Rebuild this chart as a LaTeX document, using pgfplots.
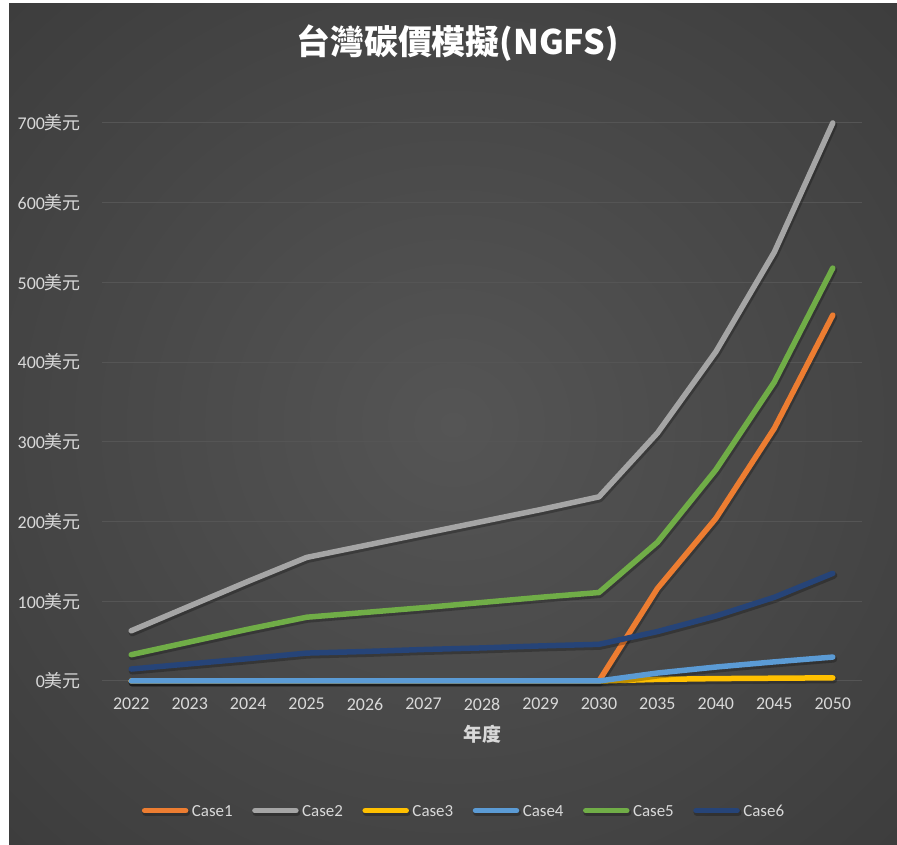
\documentclass[border=0pt]{standalone}
\usepackage{pgfplots}
\pgfplotsset{compat=1.18}
\usepackage{fontspec}
\setmainfont{Carlito}
\newfontfamily\cjk{Noto Sans CJK TC}

\definecolor{caseA}{HTML}{ED7D31}
\definecolor{caseB}{HTML}{A5A5A5}
\definecolor{caseC}{HTML}{FFC000}
\definecolor{caseD}{HTML}{5B9BD5}
\definecolor{caseE}{HTML}{70AD47}
\definecolor{caseF}{HTML}{264478}
\definecolor{ticktext}{HTML}{D9D9D9}
\definecolor{gridc}{HTML}{555555}
\definecolor{bgin}{HTML}{555555}
\definecolor{bgout}{HTML}{333333}
\definecolor{bgcorner}{HTML}{282828}

\pgfdeclareradialshading{bgshade}{\pgfpoint{0bp}{0bp}}{color(0bp)=(bgin); color(50bp)=(bgout); color(72bp)=(bgcorner)}

\begin{document}
\begin{tikzpicture}[x=1bp,y=1bp]
\path[use as bounding box, fill=white] (0,0) rectangle (897,845);
\path[shading=bgshade] (9,0) rectangle (897,841);

% title
\node[text=white, font=\cjk\bfseries\fontsize{34}{40}\selectfont] at (457.5,802) {台灣碳價模擬(NGFS)};

\begin{axis}[
    at={(102bp,164bp)}, anchor=south west,
    scale only axis, width=760bp, height=558bp,
    xmin=-0.5, xmax=12.5, ymin=0, ymax=700,
    clip=false,
    axis line style={draw=none},
    major tick length=0pt,
    ymajorgrids, grid style={gridc, line width=1bp},
    xtick={0,...,12},
    xticklabels={2022,2023,2024,2025,2026,2027,2028,2029,2030,2035,2040,2045,2050},
    ytick={0,100,...,700},
    /pgf/number format/assume math mode=true,
    yticklabel={\pgfmathprintnumber{\tick}{\cjk 美元}},
    tick label style={font=\fontsize{18}{20}\selectfont, text=ticktext, inner sep=0pt},
    xticklabel style={anchor=north, yshift=-17bp},
    yticklabel style={anchor=east, xshift=-21bp},
    xlabel={年度},
    xlabel style={at={(axis description cs:0.5,0)}, anchor=center, yshift=-53bp,
        font=\cjk\bfseries\fontsize{19}{22}\selectfont, text=ticktext},
    every axis plot/.append style={line width=5.5bp, line cap=round, line join=round, mark=none,
        preaction={draw=black, draw opacity=0.25, line width=7bp,
            transform canvas={xshift=1bp, yshift=-2bp}}},
    legend columns=6,
    legend image code/.code={\draw[#1] (0bp,1bp) -- (41bp,1bp);},
    legend style={at={(axis description cs:0.5,0)}, anchor=center,
        xshift=-19bp, yshift=-130.7bp,
        draw=none, fill=none, text=ticktext,
        font=\fontsize{17}{19}\selectfont,
        nodes={inner sep=0pt},
        /tikz/every odd column/.append style={column sep=3.5bp},
        /tikz/every even column/.append style={column sep=19.5bp}},
    legend cell align=left,
]
\addplot[caseA] coordinates {(0,0) (1,0) (2,0) (3,0) (4,0) (5,0) (6,0) (7,0) (8,0) (9,116) (10,204) (11,317) (12,459)};
\addlegendentry{Case1}
\addplot[caseB] coordinates {(0,63) (1,94) (2,125) (3,155) (4,170) (5,185) (6,200) (7,215) (8,231) (9,311) (10,413) (11,538) (12,700)};
\addlegendentry{Case2}
\addplot[caseC] coordinates {(0,0) (1,0) (2,0) (3,0) (4,0) (5,0) (6,0) (7,0) (8,0) (9,2) (10,3) (11,3.5) (12,4)};
\addlegendentry{Case3}
\addplot[caseD] coordinates {(0,0) (1,0) (2,0) (3,0) (4,0) (5,0) (6,0) (7,0) (8,0) (9,10) (10,17.5) (11,24) (12,30)};
\addlegendentry{Case4}
\addplot[caseE] coordinates {(0,33) (1,49) (2,65) (3,80) (4,86) (5,92) (6,98.5) (7,105) (8,111) (9,174) (10,265) (11,375) (12,518)};
\addlegendentry{Case5}
\addplot[caseF] coordinates {(0,15) (1,21.5) (2,28) (3,35) (4,37) (5,39.5) (6,41.5) (7,44) (8,46) (9,62) (10,81.5) (11,105) (12,135)};
\addlegendentry{Case6}
\end{axis}
\end{tikzpicture}
\end{document}
